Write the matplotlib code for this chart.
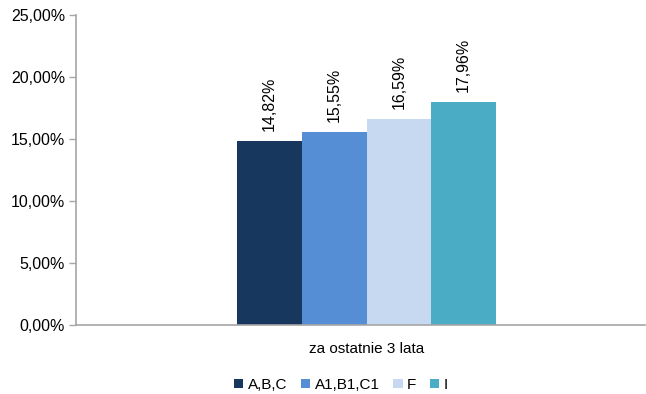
import numpy as np
import matplotlib.pyplot as plt
from matplotlib.ticker import FuncFormatter

plt.rcParams['font.family'] = ['Liberation Sans', 'DejaVu Sans']

# Data
category = 'za ostatnie 3 lata'
series = ['A,B,C', 'A1,B1,C1', 'F', 'I']
values = [14.82, 15.55, 16.59, 17.96]
colors = ['#17375E', '#558ED5', '#C6D9F1', '#4BACC6']

fig = plt.figure(figsize=(6.46, 3.94), dpi=100)
ax = fig.add_axes([0.118, 0.175, 0.88, 0.787])

x = np.arange(len(values))
bars = ax.bar(x, values, width=1.0, color=colors, label=series, zorder=2)

for b, v in zip(bars, values):
    ax.text(b.get_x() + b.get_width() / 2, v + 0.85, ('%.2f%%' % v).replace('.', ','),
            rotation=90, ha='center', va='bottom', fontsize=11.5)

ax.set_ylim(0, 25)
ax.set_yticks(np.arange(0, 26, 5))
ax.yaxis.set_major_formatter(FuncFormatter(lambda v, p: ('%.2f%%' % v).replace('.', ',')))
ax.set_xlim(-2.99, 5.8)
ax.set_xticks([1.5])
ax.set_xticklabels([category])
ax.tick_params(axis='x', length=0, pad=12, labelsize=11)
ax.tick_params(axis='y', length=5, color='#A6A6A6', width=1, labelsize=11.5, pad=3)

for s in ['top', 'right']:
    ax.spines[s].set_visible(False)
for s in ['left', 'bottom']:
    ax.spines[s].set_color('#A6A6A6')
    ax.spines[s].set_linewidth(1.2)

fig.legend(handles=bars, labels=series, loc='center', bbox_to_anchor=(0.528, 0.023),
           ncol=4, frameon=False, fontsize=11, handlelength=0.6, handleheight=0.6,
           handletextpad=0.3, columnspacing=0.9, borderpad=0)

fig.savefig('out.png', dpi=100)
